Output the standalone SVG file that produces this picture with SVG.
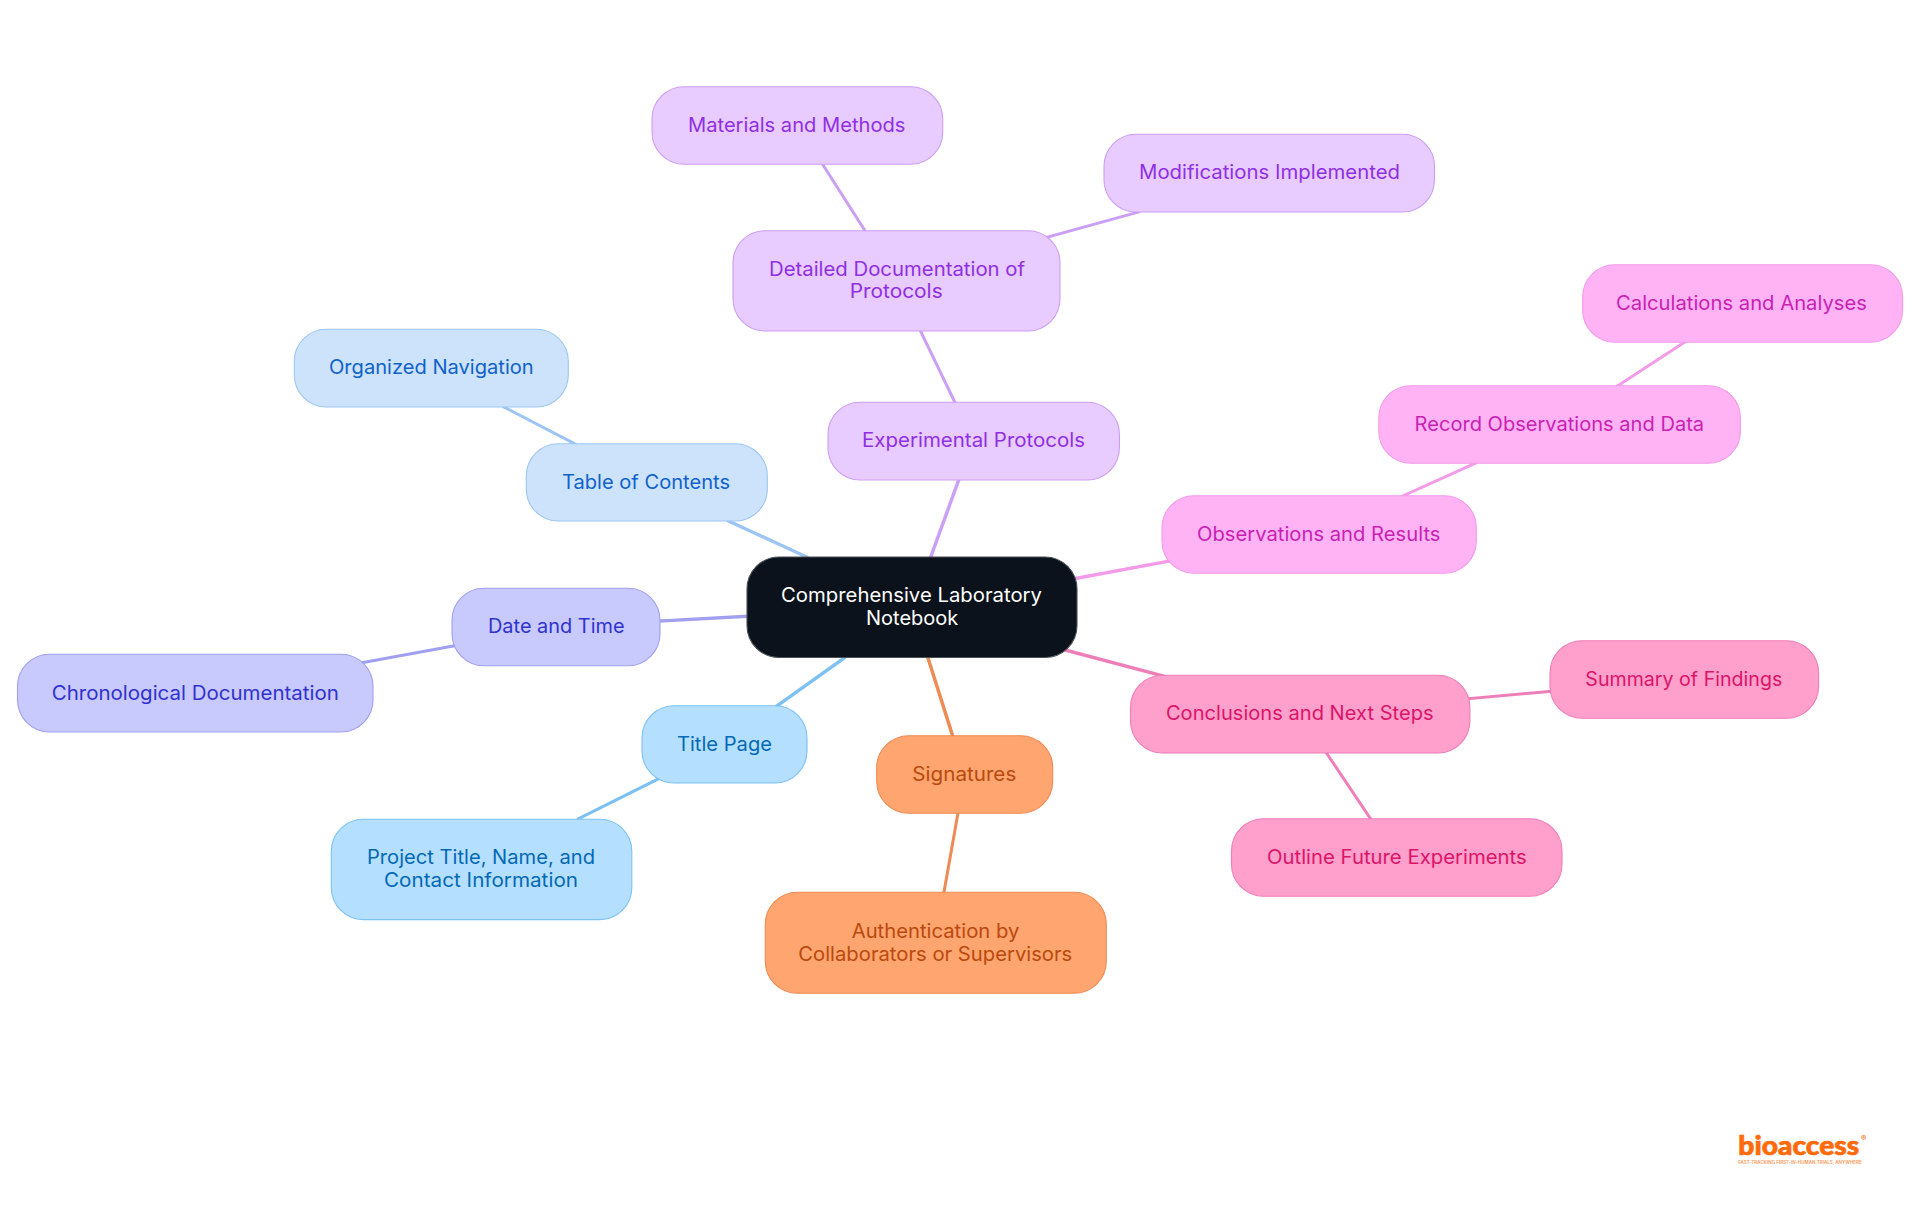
<svg xmlns="http://www.w3.org/2000/svg" width="1920" height="1215" viewBox="0 0 1920 1215">
<style>
text{font-family:"Inter","Liberation Sans",sans-serif;font-size:19.6px}
rect{stroke-width:1.1}
#connectors path{fill:none;stroke-linecap:square}
.l1{stroke-width:3.4}
.l2{stroke-width:3}
.sky rect{fill:#b5dfff;stroke:#7cc1f2}.sky text{fill:#0369b5}
.blue rect{fill:#cde3fc;stroke:#9dc5f3}.blue text{fill:#0f62c9}
.ind rect{fill:#c8c9fd;stroke:#a09ff0}.ind text{fill:#3032cf}
.pur rect{fill:#e8cbff;stroke:#cb9ff5}.pur text{fill:#8f2fe3}
.fuc rect{fill:#ffb3f5;stroke:#f39ae8}.fuc text{fill:#c91fb3}
.pink rect{fill:#ff9fcb;stroke:#ee7eb8}.pink text{fill:#db1469}
.org rect{fill:#ffa56f;stroke:#ee8a54}.org text{fill:#b94a0e}
.sky-e{stroke:#7cc1f2}.blue-e{stroke:#9dc5f3}.ind-e{stroke:#a09ff0}.pur-e{stroke:#cb9ff5}.fuc-e{stroke:#f39ae8}.pink-e{stroke:#ee7eb8}.org-e{stroke:#ee8a54}
</style>
<g id="connectors">
<path class="l1 blue-e" d="M806.7 557L728.3 521"/>
<path class="l2 blue-e" d="M575 444L504 407"/>
<path class="l1 pur-e" d="M930.7 557L958.7 480"/>
<path class="l2 pur-e" d="M955 402.5L920.5 331"/>
<path class="l2 pur-e" d="M865.2 231L822.4 164"/>
<path class="l2 pur-e" d="M1045.5 237.7L1138.5 212"/>
<path class="l1 fuc-e" d="M1075.7 578.5L1170 561"/>
<path class="l2 fuc-e" d="M1402.6 496L1475.8 463"/>
<path class="l2 fuc-e" d="M1617.5 386L1684.7 342"/>
<path class="l1 pink-e" d="M1065 650L1163 676"/>
<path class="l2 pink-e" d="M1468.5 698.7L1550 691.3"/>
<path class="l2 pink-e" d="M1326.5 753L1370.7 819"/>
<path class="l1 org-e" d="M927.7 657L952.7 736"/>
<path class="l2 org-e" d="M958 813L944 892"/>
<path class="l1 ind-e" d="M747 616.3L660 621"/>
<path class="l2 ind-e" d="M454.5 645.7L360.7 663"/>
<path class="l1 sky-e" d="M844 658L777 706"/>
<path class="l2 sky-e" d="M659.4 778.3L578.6 818.7"/>
</g>
<g id="root"><rect x="747" y="557" width="330" height="100.5" rx="32" style="fill:#0c121b;stroke:#4a4f56"/>
<text x="781" y="601.7" textLength="261" lengthAdjust="spacingAndGlyphs" fill="#ffffff">Comprehensive Laboratory</text>
<text x="866" y="624.7" textLength="92.3" lengthAdjust="spacingAndGlyphs" fill="#ffffff">Notebook</text></g>
<g id="title-page" class="sky"><rect x="642" y="705.7" width="165" height="77.3" rx="32"/><text x="677" y="750.7" textLength="95" lengthAdjust="spacingAndGlyphs">Title Page</text></g>
<g id="project-title" class="sky"><rect x="331.3" y="819.3" width="300.5" height="100.3" rx="32"/><text x="367" y="864" textLength="228" lengthAdjust="spacingAndGlyphs">Project Title, Name, and</text><text x="384" y="887" textLength="194" lengthAdjust="spacingAndGlyphs">Contact Information</text></g>
<g id="table-of-contents" class="blue"><rect x="526.3" y="443.7" width="241" height="77.3" rx="32"/><text x="562" y="489" textLength="168" lengthAdjust="spacingAndGlyphs">Table of Contents</text></g>
<g id="organized-navigation" class="blue"><rect x="294.3" y="329.3" width="274" height="77.7" rx="32"/><text x="329" y="374" textLength="204.7" lengthAdjust="spacingAndGlyphs">Organized Navigation</text></g>
<g id="date-and-time" class="ind"><rect x="452" y="588.3" width="208" height="77.4" rx="32"/><text x="488" y="633" textLength="136.6" lengthAdjust="spacingAndGlyphs">Date and Time</text></g>
<g id="chronological" class="ind"><rect x="17.5" y="654.3" width="355.5" height="77.7" rx="32"/><text x="51.8" y="700" textLength="287" lengthAdjust="spacingAndGlyphs">Chronological Documentation</text></g>
<g id="experimental" class="pur"><rect x="828" y="402.3" width="291.4" height="77.7" rx="32"/><text x="862" y="447" textLength="223" lengthAdjust="spacingAndGlyphs">Experimental Protocols</text></g>
<g id="detailed" class="pur"><rect x="733" y="230.7" width="327" height="100.3" rx="32"/><text x="769" y="276" textLength="256" lengthAdjust="spacingAndGlyphs">Detailed Documentation of</text><text x="849.7" y="298" textLength="93" lengthAdjust="spacingAndGlyphs">Protocols</text></g>
<g id="materials" class="pur"><rect x="652" y="86.7" width="290.7" height="77.6" rx="32"/><text x="688" y="132" textLength="217.5" lengthAdjust="spacingAndGlyphs">Materials and Methods</text></g>
<g id="modifications" class="pur"><rect x="1104" y="134.3" width="330.5" height="77.7" rx="32"/><text x="1139" y="179" textLength="261" lengthAdjust="spacingAndGlyphs">Modifications Implemented</text></g>
<g id="observations" class="fuc"><rect x="1162" y="495.7" width="314.3" height="77.6" rx="32"/><text x="1197" y="541.3" textLength="243.5" lengthAdjust="spacingAndGlyphs">Observations and Results</text></g>
<g id="record" class="fuc"><rect x="1378.8" y="385.7" width="361.6" height="77.6" rx="32"/><text x="1414.6" y="431" textLength="289.5" lengthAdjust="spacingAndGlyphs">Record Observations and Data</text></g>
<g id="calculations" class="fuc"><rect x="1582.7" y="264.7" width="319.9" height="77.6" rx="32"/><text x="1616" y="310" textLength="251" lengthAdjust="spacingAndGlyphs">Calculations and Analyses</text></g>
<g id="conclusions" class="pink"><rect x="1130.5" y="675.3" width="339.4" height="77.7" rx="32"/><text x="1165.9" y="720" textLength="267.7" lengthAdjust="spacingAndGlyphs">Conclusions and Next Steps</text></g>
<g id="summary" class="pink"><rect x="1550" y="640.7" width="268.6" height="77.6" rx="32"/><text x="1585.3" y="686" textLength="197" lengthAdjust="spacingAndGlyphs">Summary of Findings</text></g>
<g id="outline" class="pink"><rect x="1231.5" y="818.7" width="330.5" height="77.6" rx="32"/><text x="1267" y="864" textLength="259.7" lengthAdjust="spacingAndGlyphs">Outline Future Experiments</text></g>
<g id="signatures" class="org"><rect x="876.7" y="735.7" width="176" height="77.6" rx="32"/><text x="912.3" y="781" textLength="104" lengthAdjust="spacingAndGlyphs">Signatures</text></g>
<g id="authentication" class="org"><rect x="765.3" y="892.3" width="341" height="101" rx="32"/><text x="851.7" y="937.7" textLength="167.6" lengthAdjust="spacingAndGlyphs">Authentication by</text><text x="798.3" y="961" textLength="274" lengthAdjust="spacingAndGlyphs">Collaborators or Supervisors</text></g>
<g id="logo">
<text x="1738.3" y="1155" textLength="121" lengthAdjust="spacingAndGlyphs" stroke="#ff6b0a" stroke-width="0.7" style="font-family:'Lato','Liberation Sans',sans-serif;font-size:27px;font-weight:900" fill="#ff6b0a">bioaccess</text>
<text x="1861" y="1141" style="font-size:8px;font-weight:700" fill="#ff6b0a">®</text>
<text x="1738.3" y="1164" textLength="123.5" lengthAdjust="spacingAndGlyphs" style="font-size:4.2px;font-weight:600" fill="#f9985a">FAST-TRACKING FIRST-IN-HUMAN TRIALS, ANYWHERE</text>
</g>
</svg>
